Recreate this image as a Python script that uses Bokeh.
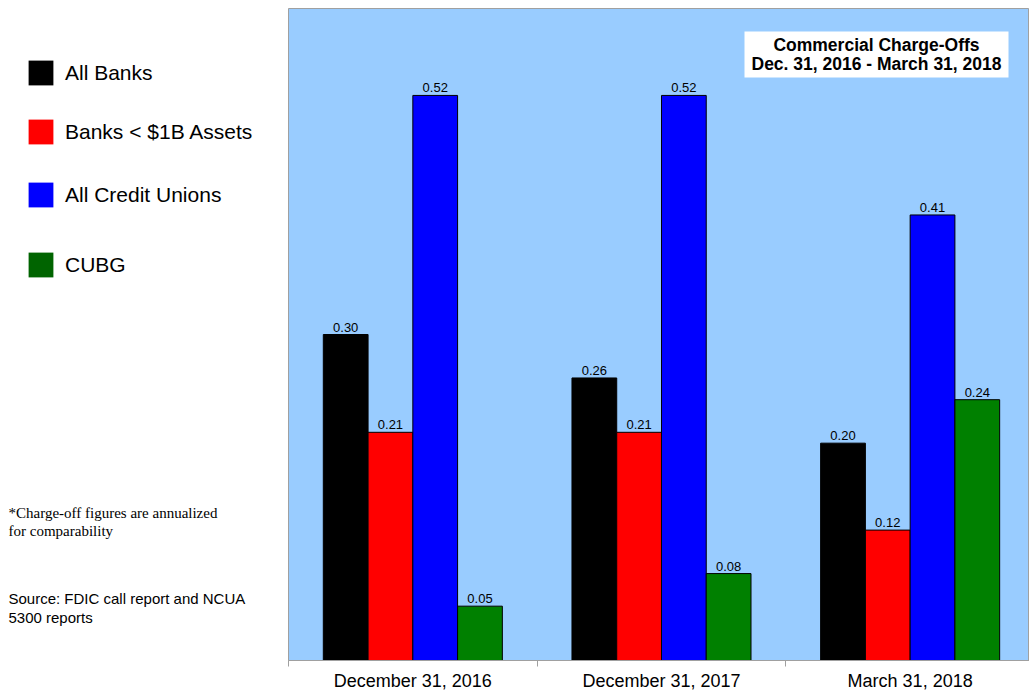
import numpy as np
from bokeh.plotting import figure
from bokeh.layouts import row
from bokeh.models import (ColumnDataSource, Range1d, FixedTicker, Legend, LegendItem,
                          Label, BoxAnnotation)
from bokeh.transform import dodge
from bokeh.embed import file_html
from bokeh.resources import INLINE
from bokeh.core.properties import value

# ---- data ----
categories = ["December 31, 2016", "December 31, 2017", "March 31, 2018"]
all_banks = [0.30, 0.26, 0.20]
small_banks = [0.21, 0.21, 0.12]
credit_unions = [0.52, 0.52, 0.41]
cubg = [0.05, 0.08, 0.24]
series_names = ["All Banks", "Banks < $1B Assets", "All Credit Unions", "CUBG"]
title_lines = ["Commercial Charge-Offs", "Dec. 31, 2016 - March 31, 2018"]
note_lines = ["*Charge-off figures are annualized", "for comparability"]
source_lines = ["Source: FDIC call report and NCUA", "5300 reports"]

bar_colors = ["#000000", "#FF0000", "#0000FF", "#008000"]
legend_colors = ["#000000", "#FF0000", "#0000FF", "#006400"]
legend_tops = [57, 116, 179, 249]     # page-pixel top of each legend entry box
offsets = [-0.27, -0.09, 0.09, 0.27]
BAR_W = 0.18

pos = [i + 0.5 for i in range(len(categories))]
series = [all_banks, small_banks, credit_unions, cubg]

W, H = 1029, 693
LEFT, TOP, BOTTOM = 288, 8, 31
FB = 660            # frame bottom in page pixels (axis panel takes 33 px)
X_END = 2.98
Y_END = 0.6
fw = W - LEFT
GLYPH = 31

# ---------- left panel: legend and notes (frame aligned with main chart) ----------
side = figure(width=LEFT, height=H, output_backend="svg", toolbar_location=None,
              x_range=Range1d(0, LEFT), y_range=Range1d(FB, TOP),
              min_border=0, min_border_left=0, min_border_right=0,
              min_border_top=TOP, min_border_bottom=BOTTOM)
side.axis.visible = False
side.xgrid.visible = False
side.ygrid.visible = False
side.outline_line_color = None
side.background_fill_color = "white"
side.border_fill_color = "white"

leg_src = ColumnDataSource(dict(x=np.array([np.nan]), top=np.array([np.nan])))
for name, col, top in zip(series_names, legend_colors, legend_tops):
    r = side.vbar(x="x", top="top", width=1, source=leg_src, fill_color=col, line_color=None)
    lg = Legend(items=[LegendItem(label=name, renderers=[r])],
                location=(25, FB - (top + GLYPH)),
                glyph_width=GLYPH, glyph_height=GLYPH, label_standoff=9,
                padding=0, margin=0, border_line_color=None, background_fill_alpha=0,
                label_text_font="Liberation Sans", label_text_font_size="21px",
                label_text_color="#000000")
    side.add_layout(lg)

for line, py in zip(note_lines, [512, 530]):
    side.add_layout(Label(x=8, y=py, text=line, text_align="left",
                          text_baseline="middle", text_font="Liberation Serif",
                          text_font_size="15px", text_color="#000000"))
for line, py in zip(source_lines, [598, 617]):
    side.add_layout(Label(x=8, y=py, text=line, text_align="left",
                          text_baseline="middle", text_font="Liberation Sans",
                          text_font_size="15px", text_color="#000000"))

# ---------- main chart ----------
p = figure(width=fw, height=H, output_backend="svg", toolbar_location=None,
           x_range=Range1d(0, X_END), y_range=Range1d(0, Y_END),
           min_border_left=0, min_border_right=0, min_border_top=TOP,
           min_border_bottom=BOTTOM)
p.background_fill_color = "#99CCFF"
p.border_fill_color = "white"
p.outline_line_color = "#a0a0a0"
p.xgrid.visible = False
p.ygrid.visible = False
p.yaxis.visible = False

fh = FB - TOP
def xd(px):
    return (px - LEFT) / fw * X_END
def yd(py):
    return (FB - py) / fh * Y_END

data = dict(x=pos)
for i, s in enumerate(series):
    data[f"s{i}"] = s
    data[f"t{i}"] = [f"{v:.2f}" for v in s]
src = ColumnDataSource(data)

for i in range(4):
    p.vbar(x=dodge("x", offsets[i]), top=f"s{i}", width=BAR_W, bottom=0, source=src,
           fill_color=bar_colors[i], line_color="black", line_width=1)
    p.text(x=dodge("x", offsets[i]), y=f"s{i}", text=f"t{i}", source=src,
           text_align="center", text_baseline="bottom", y_offset=-3,
           text_font=value("Liberation Sans"), text_font_size="13px", text_color="#000000")

ax = p.xaxis[0]
ax.ticker = FixedTicker(ticks=pos, minor_ticks=[0, 1, 2, 3])
ax.major_label_overrides = {pp: c for pp, c in zip(pos, categories)}
ax.major_tick_out = 0
ax.major_tick_in = 0
ax.minor_tick_out = 6
ax.minor_tick_in = 0
ax.minor_tick_line_color = "#a0a0a0"
ax.axis_line_color = "#a0a0a0"
ax.major_label_standoff = 4
ax.major_label_text_font = "Liberation Sans"
ax.major_label_text_font_size = "18px"
ax.major_label_text_color = "#000000"

p.add_layout(BoxAnnotation(left=xd(744), right=xd(1008), top=yd(31), bottom=yd(77),
                           fill_color="white", fill_alpha=1, line_color=None))
for line, py in zip(title_lines, [44, 63]):
    p.add_layout(Label(x=xd(876), y=yd(py), text=line, text_align="center",
                       text_baseline="middle", text_font="Liberation Sans",
                       text_font_style="bold", text_font_size="17.5px", text_color="#000000"))

layout = row(side, p, spacing=0)
open("out.html", "w").write(file_html(layout, INLINE))
